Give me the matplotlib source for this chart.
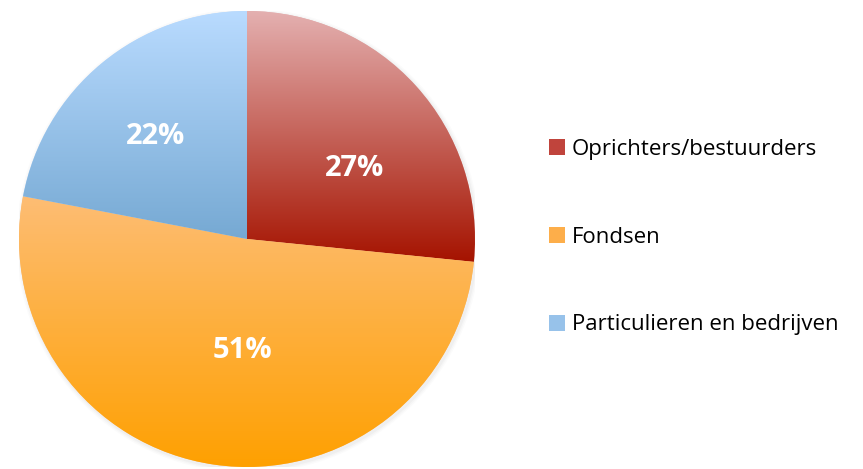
import numpy as np
import matplotlib
matplotlib.use("Agg")
import matplotlib.pyplot as plt
from matplotlib.colors import LinearSegmentedColormap
from matplotlib.patches import Patch

# aandelen financiering (in %)
labels = ["Oprichters/bestuurders", "Fondsen", "Particulieren en bedrijven"]
shares = [26.6, 51.4, 22.0]
pct_text = ["27%", "51%", "22%"]

# kleurverloop per stuk: boven -> onder
top_colors = ["#e4b0b0", "#fdbd74", "#b9dbff"]
bottom_colors = ["#a51300", "#ffa000", "#76a9d3"]
legend_colors = ["#c0443c", "#fdae4a", "#97c2ea"]

# plek van de percentages (zoals Excel ze zet)
label_pos = [(0.47, 0.31), (-0.02, -0.49), (-0.40, 0.45)]

plt.rcParams['font.family'] = ['Open Sans', 'DejaVu Sans']

fig = plt.figure(figsize=(8.63, 4.69), dpi=100)
ax = fig.add_axes([19 / 863, 2 / 469, 456 / 863, 456 / 469])

# zachte schaduw rond de taart
for i, a in enumerate([0.05, 0.04, 0.03]):
    sh = plt.Circle((0.006, -0.008), 1.0 + 0.006 * (i + 1), color="#888888",
                    alpha=a, lw=0, zorder=0)
    ax.add_patch(sh)

wedges, _ = ax.pie(shares, startangle=90, counterclock=False, radius=1.0,
                   colors=top_colors, wedgeprops=dict(lw=0))

grad = np.linspace(0, 1, 256).reshape(-1, 1)
for w, c_top, c_bot in zip(wedges, top_colors, bottom_colors):
    verts = w.get_path().vertices
    ymin, ymax = verts[:, 1].min(), verts[:, 1].max()
    xmin, xmax = verts[:, 0].min(), verts[:, 0].max()
    cmap = LinearSegmentedColormap.from_list("g", [c_top, c_bot])
    im = ax.imshow(grad, cmap=cmap, aspect="auto", origin="upper",
                   extent=[xmin, xmax, ymin, ymax], zorder=2)
    im.set_clip_path(w)

# percentages in de stukken
for (x, y), txt in zip(label_pos, pct_text):
    ax.text(x, y, txt, ha="center", va="center",
            color="white", fontsize=21, fontweight="bold", zorder=5)

ax.set_xlim(-1, 1)
ax.set_ylim(-1, 1)
ax.set_aspect("equal")
ax.axis("off")

handles = [Patch(facecolor=c, edgecolor="none") for c in legend_colors]
fig.legend(handles, labels, loc="center left", bbox_to_anchor=(540 / 863, 0.494),
           frameon=False, fontsize=16, labelspacing=3.0, handlelength=0.72,
           handleheight=0.72, handletextpad=0.3, borderaxespad=0)

fig.savefig("out.png", dpi=100)
